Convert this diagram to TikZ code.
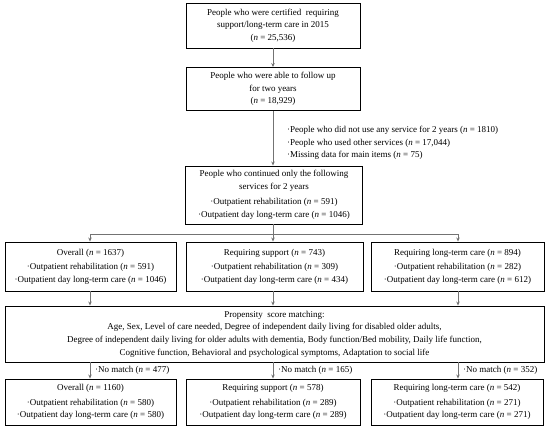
\documentclass[tikz,border=0pt]{standalone}
\usepackage{fontspec}
\setmainfont{Liberation Serif}
\usetikzlibrary{arrows.meta}
\newcommand{\nn}{\textit{n}}
\newcommand{\bu}{\textperiodcentered}
\begin{document}
\begin{tikzpicture}[x=1pt,y=-1pt,
  box/.style={draw=black, line width=0.9pt, inner sep=0pt, align=center,
    font=\fontsize{9}{12.6}\selectfont, rectangle},
  lbl/.style={inner sep=0pt, align=left, anchor=west, font=\fontsize{9}{12.6}\selectfont},
  conn/.style={draw=black!55, line width=0.8pt, -{Stealth[length=4pt,width=3.5pt]}},
  plain/.style={draw=black!55, line width=0.8pt}]
\useasboundingbox (0,0) rectangle (550,431);
% top column
\node[box, minimum width=174pt, minimum height=45pt] (b1) at (273,25.5)
  {People who were certified\ \ requiring\\support/long-term care in 2015\\(\nn{} = 25,536)};
\node[box, minimum width=174pt, minimum height=43pt] (b2) at (273,89)
  {People who were able to follow up\\for two years\\(\nn{} = 18,929)};
\node[box, minimum width=177pt, minimum height=58pt] (b3) at (274,195)
  {People who continued only the following\\services for 2 years\\[3pt]
   \bu Outpatient rehabilitation (\nn{} = 591)\\\bu Outpatient day long-term care (\nn{} = 1046)};
\node[lbl] (ex) at (287,143)
  {\bu People who did not use any service for 2 years (\nn{} = 1810)\\
   \bu People who used other services (\nn{} = 17,044)\\
   \bu Missing data for main items (\nn{} = 75)};
% row 2
\node[box, minimum width=171pt, minimum height=49pt] (r2l) at (90.5,266.5)
  {Overall (\nn{} = 1637)\\[2pt]\bu Outpatient rehabilitation (\nn{} = 591)\\\bu Outpatient day long-term care (\nn{} = 1046)};
\node[box, minimum width=177pt, minimum height=49pt] (r2m) at (274.5,266.5)
  {Requiring support (\nn{} = 743)\\[2pt]\bu Outpatient rehabilitation (\nn{} = 309)\\\bu Outpatient day long-term care (\nn{} = 434)};
\node[box, minimum width=173pt, minimum height=49pt] (r2r) at (457.5,266.5)
  {Requiring long-term care (\nn{} = 894)\\[2pt]\bu Outpatient rehabilitation (\nn{} = 282)\\\bu Outpatient day long-term care (\nn{} = 612)};
% PSM
\node[box, minimum width=539pt, minimum height=56pt] (psm) at (274.5,334)
  {Propensity\ \ score matching:\\
   Age, Sex, Level of care needed, Degree of independent daily living for disabled older adults,\\
   Degree of independent daily living for older adults with dementia, Body function/Bed mobility, Daily life function,\\
   Cognitive function, Behavioral and psychological symptoms, Adaptation to social life};
% bottom row
\node[box, minimum width=171pt, minimum height=46pt] (b3l) at (90.5,402)
  {Overall (\nn{} = 1160)\\[2pt]\bu Outpatient rehabilitation (\nn{} = 580)\\\bu Outpatient day long-term care (\nn{} = 580)};
\node[box, minimum width=174pt, minimum height=46pt] (b3m) at (273,402)
  {Requiring support (\nn{} = 578)\\[2pt]\bu Outpatient rehabilitation (\nn{} = 289)\\\bu Outpatient day long-term care (\nn{} = 289)};
\node[box, minimum width=172pt, minimum height=46pt] (b3r) at (457,402)
  {Requiring long-term care (\nn{} = 542)\\[2pt]\bu Outpatient rehabilitation (\nn{} = 271)\\\bu Outpatient day long-term care (\nn{} = 271)};
% no match labels
\node[lbl] (nm1) at (95,370) {\bu No match (\nn{} = 477)};
\node[lbl] (nm2) at (278,370) {\bu No match (\nn{} = 165)};
\node[lbl] (nm3) at (463,370) {\bu No match (\nn{} = 352)};
% connectors
\draw[conn] (b1.south) -- (b2.north);
\draw[conn] (b2.south) -- (b2.south |- b3.north);
\coordinate (jc) at (273,234);
\coordinate (jl) at (90,234);
\coordinate (jr) at (458,234);
\draw[plain] (b3.south -| jc) -- (jc);
\draw[plain] (jl) -- (jr);
\draw[conn] (jl) -- (jl |- r2l.north);
\draw[conn] (jc) -- (jc |- r2m.north);
\draw[conn] (jr) -- (jr |- r2r.north);
\draw[conn] (r2l.south -| jl) -- (jl |- psm.north);
\draw[conn] (r2m.south -| jc) -- (jc |- psm.north);
\draw[conn] (r2r.south -| jr) -- (jr |- psm.north);
\draw[conn] (psm.south -| jl) -- (jl |- b3l.north);
\draw[conn] (psm.south -| jc) -- (jc |- b3m.north);
\draw[conn] (psm.south -| jr) -- (jr |- b3r.north);
\end{tikzpicture}
\end{document}
